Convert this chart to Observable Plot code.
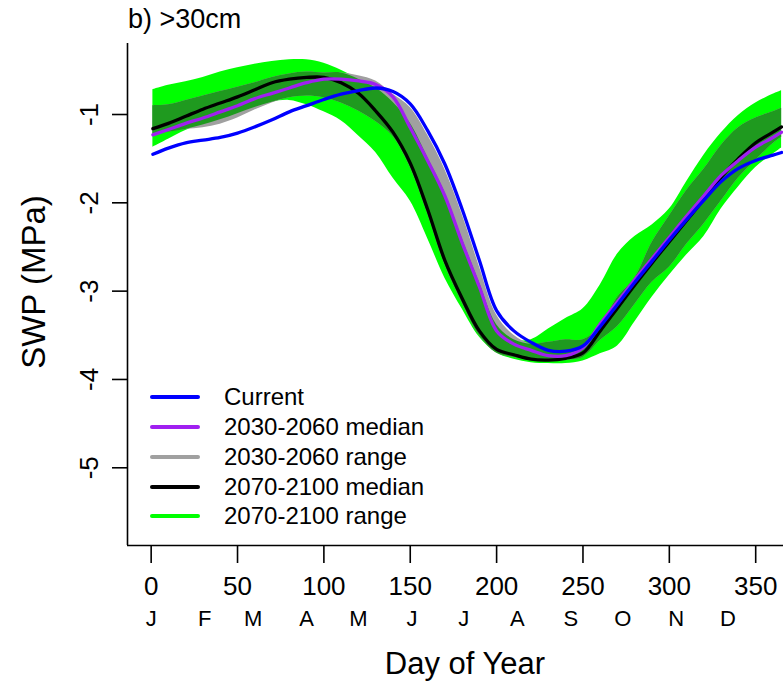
<!DOCTYPE html>
<html><head><meta charset="utf-8">
<script src="https://cdn.jsdelivr.net/npm/d3@7"></script>
<script src="https://cdn.jsdelivr.net/npm/@observablehq/plot@0.6"></script>
<style>
body{margin:0;background:#fff;}
#wrap{position:relative;width:783px;height:681px;font-family:"Liberation Sans",Arial,sans-serif;color:#000;overflow:hidden;background:#fff}
#wrap > svg{position:absolute;left:0;top:0}
.ov{position:absolute;white-space:nowrap;line-height:1}
.sw{position:absolute;height:4px;width:50px;border-radius:2px}
</style></head><body><div id="wrap"></div>
<script>
// Day of year
const days = [1,10,20,30,40,50,60,70,80,90,100,110,120,130,140,150,160,170,180,190,200,210,220,230,240,250,260,270,280,290,300,310,320,330,340,350,360,365];
// Current (blue)
const current = [-1.45,-1.38,-1.32,-1.29,-1.26,-1.21,-1.14,-1.06,-0.97,-0.90,-0.83,-0.77,-0.73,-0.70,-0.74,-0.88,-1.18,-1.56,-2.07,-2.65,-3.22,-3.45,-3.58,-3.67,-3.68,-3.62,-3.40,-3.15,-2.90,-2.66,-2.42,-2.19,-1.97,-1.76,-1.61,-1.52,-1.46,-1.43];
// 2030-2060 median (purple)
const median2030 = [-1.23,-1.17,-1.10,-1.04,-0.97,-0.90,-0.82,-0.76,-0.70,-0.64,-0.60,-0.60,-0.62,-0.66,-0.80,-1.15,-1.52,-1.92,-2.45,-2.95,-3.45,-3.60,-3.67,-3.73,-3.73,-3.64,-3.37,-3.12,-2.87,-2.63,-2.39,-2.15,-1.92,-1.69,-1.52,-1.37,-1.26,-1.20];
// 2030-2060 range (gray)
const range2030Lo = [-1.22,-1.20,-1.17,-1.15,-1.11,-1.04,-0.95,-0.87,-0.81,-0.79,-0.81,-0.87,-0.96,-1.08,-1.25,-1.60,-2.12,-2.70,-3.13,-3.50,-3.70,-3.75,-3.78,-3.79,-3.78,-3.75,-3.56,-3.40,-3.15,-2.90,-2.73,-2.47,-2.24,-1.98,-1.72,-1.52,-1.33,-1.26];
const range2030Hi = [-0.90,-0.89,-0.84,-0.79,-0.74,-0.69,-0.64,-0.58,-0.54,-0.52,-0.53,-0.53,-0.56,-0.62,-0.77,-0.92,-1.23,-1.62,-2.13,-2.72,-3.27,-3.50,-3.60,-3.58,-3.55,-3.55,-3.40,-3.07,-2.85,-2.45,-2.15,-1.86,-1.62,-1.35,-1.15,-1.04,-0.97,-0.93];
// 2070-2100 median (black)
const median2070 = [-1.16,-1.10,-1.02,-0.94,-0.87,-0.80,-0.72,-0.64,-0.60,-0.58,-0.58,-0.64,-0.76,-0.96,-1.20,-1.55,-2.07,-2.65,-3.08,-3.45,-3.66,-3.72,-3.77,-3.78,-3.76,-3.70,-3.45,-3.19,-2.93,-2.68,-2.44,-2.20,-1.96,-1.71,-1.50,-1.32,-1.20,-1.14];
// 2070-2100 range (green)
const range2070Lo = [-1.37,-1.28,-1.18,-1.12,-1.06,-0.99,-0.92,-0.86,-0.84,-0.89,-0.97,-1.07,-1.24,-1.43,-1.72,-1.98,-2.40,-2.85,-3.20,-3.52,-3.70,-3.77,-3.81,-3.82,-3.82,-3.79,-3.71,-3.62,-3.35,-3.07,-2.82,-2.59,-2.38,-2.07,-1.82,-1.60,-1.45,-1.38];
const range2070Hi = [-0.72,-0.67,-0.63,-0.58,-0.52,-0.47,-0.43,-0.40,-0.38,-0.38,-0.42,-0.50,-0.60,-0.70,-0.86,-1.10,-1.48,-1.88,-2.40,-2.90,-3.38,-3.55,-3.55,-3.43,-3.31,-3.20,-2.93,-2.58,-2.38,-2.25,-2.07,-1.76,-1.46,-1.21,-1.01,-0.87,-0.77,-0.73];

const xTicks = [0,50,100,150,200,250,300,350];
const yTicks = [-1,-2,-3,-4,-5];
const monthLabels = ["J","F","M","A","M","J","J","A","S","O","N","D"];
const monthStarts = [0,31,59,90,120,151,181,212,243,273,304,334];
const legendLabels = ["Current","2030-2060 median","2030-2060 range","2070-2100 median","2070-2100 range"];
const legendColors = ["#0000ff","#a020f0","#a0a0a0","#000000","#00ff00"];
const overlapColor = "#1f9a1f";

const rows = days.map((d,i) => {
  const oLo = Math.max(range2030Lo[i], range2070Lo[i]);
  const oHi = Math.max(oLo, Math.min(range2030Hi[i], range2070Hi[i]));
  return {day:d, cur:current[i], mid:median2030[i], late:median2070[i],
    sLo:range2030Lo[i], sHi:range2030Hi[i], gLo:range2070Lo[i], gHi:range2070Hi[i], oLo, oHi};
});

const xDomain = [-13.7, 366.1];
const yDomain = [-5.88, -0.196];
const font = '"Liberation Sans", Arial, sans-serif';
const curve = "catmull-rom";

const chart = Plot.plot({
  width: 783, height: 681,
  marginLeft: 127, marginRight: 0, marginTop: 43, marginBottom: 136,
  style: {fontFamily: font, fontSize: "26px", color: "#000", background: "white", overflow: "visible"},
  x: {domain: xDomain},
  y: {domain: yDomain},
  marks: [
    Plot.areaY(rows, {x: "day", y1: "gLo", y2: "gHi", fill: legendColors[4], curve}),
    Plot.areaY(rows, {x: "day", y1: "sLo", y2: "sHi", fill: legendColors[2], curve}),
    Plot.areaY(rows, {x: "day", y1: "oLo", y2: "oHi", fill: overlapColor, curve}),
    Plot.line(rows, {x: "day", y: "late", stroke: legendColors[3], strokeWidth: 3.3, curve}),
    Plot.line(rows, {x: "day", y: "mid", stroke: legendColors[1], strokeWidth: 3.3, curve}),
    Plot.line(rows, {x: "day", y: "cur", stroke: legendColors[0], strokeWidth: 3.3, curve}),
    Plot.ruleX([xDomain[0]], {strokeWidth: 1.6}),
    Plot.ruleY([yDomain[0]], {strokeWidth: 1.6}),
    Plot.axisX(xTicks, {tickSize: 18, tickPadding: 13, label: null, fontSize: 26, strokeWidth: 1.6}),
    Plot.axisY(yTicks, {tickSize: 15, tickFormat: () => "", label: null, strokeWidth: 1.6}),
    Plot.text(yTicks, {y: d => d, text: d => String(d), frameAnchor: "left", dx: -30,
      rotate: -90, textAnchor: "middle", lineAnchor: "bottom", fontSize: 26}),
    Plot.text(monthStarts, {x: d => d, text: (d, i) => monthLabels[i], frameAnchor: "bottom",
      dy: 73, lineAnchor: "middle", fontSize: 22})
  ]
});
const wrap = document.getElementById("wrap");
wrap.appendChild(chart);

function addText(txt, left, top, size, extra) {
  const el = document.createElement("div");
  el.className = "ov";
  el.textContent = txt;
  el.style.left = left + "px";
  el.style.top = top + "px";
  el.style.fontSize = size + "px";
  if (extra) Object.assign(el.style, extra);
  wrap.appendChild(el);
  return el;
}
// title
addText("b) >30cm", 128, 6, 27);
// x title
addText("Day of Year", 465, 663, 31, {transform: "translate(-50%,-50%)"});
// y title
addText("SWP (MPa)", 33, 282, 33, {transform: "translate(-50%,-50%) rotate(-90deg)"});
// legend
const legY = [397, 427, 457, 487, 516];
legendLabels.forEach((lab, i) => {
  const sw = document.createElement("div");
  sw.className = "sw";
  sw.style.left = "150px";
  sw.style.top = (legY[i] - 2) + "px";
  sw.style.background = legendColors[i];
  wrap.appendChild(sw);
  addText(lab, 224, legY[i] - 0.49 * 24, 24);
});
</script>
</body></html>
